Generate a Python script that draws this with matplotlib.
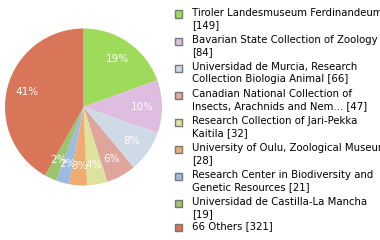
import math
import matplotlib
matplotlib.use("Agg")
import matplotlib.pyplot as plt
from matplotlib.patches import Rectangle

# dados do gráfico
nomes = [
    "Tiroler Landesmuseum Ferdinandeum\n[149]",
    "Bavarian State Collection of Zoology\n[84]",
    "Universidad de Murcia, Research\nCollection Biologia Animal [66]",
    "Canadian National Collection of\nInsects, Arachnids and Nem... [47]",
    "Research Collection of Jari-Pekka\nKaitila [32]",
    "University of Oulu, Zoological Museum\n[28]",
    "Research Center in Biodiversity and\nGenetic Resources [21]",
    "Universidad de Castilla-La Mancha\n[19]",
    "66 Others [321]",
]
valores = [149, 84, 66, 47, 32, 28, 21, 19, 321]
cores = ["#9fdb5b", "#dfbde0", "#cedbe6", "#dfa59d", "#dde39d",
         "#efab70", "#9dbae0", "#9cc46f", "#d97559"]

total = sum(valores)
rotulos = [f"{math.floor(v * 100 / total)}%" for v in valores]

fig = plt.figure(figsize=(3.8, 2.4), dpi=100)
fig.patch.set_facecolor("white")

# pizza: centro ~(83.5, 107), raio ~78.5 px
ax = fig.add_axes([5 / 380, 1 - 185.5 / 240, 157 / 380, 157 / 240])
ax.pie(valores, colors=cores, startangle=90, counterclock=False,
       labels=rotulos, labeldistance=0.75,
       textprops=dict(color="white", fontsize=7.5, ha="center", va="center"),
       wedgeprops=dict(linewidth=0))
ax.set_aspect("equal")
ax.set_xlim(-1, 1)
ax.set_ylim(-1, 1)

# legenda manual
yq = [14, 41, 68, 95, 122, 149, 176, 203, 227]
for nome, cor, y in zip(nomes, cores, yq):
    fig.patches.append(Rectangle((175 / 380, 1 - (y + 3.5) / 240), 7 / 380, 7 / 240,
                                 transform=fig.transFigure, facecolor=cor,
                                 edgecolor="#777777", linewidth=1.0))
    fig.text(192 / 380, 1 - (y - 6) / 240, nome, fontsize=7.3, color="black",
             va="top", ha="left", linespacing=1.25)

plt.savefig("out.png", dpi=100)
